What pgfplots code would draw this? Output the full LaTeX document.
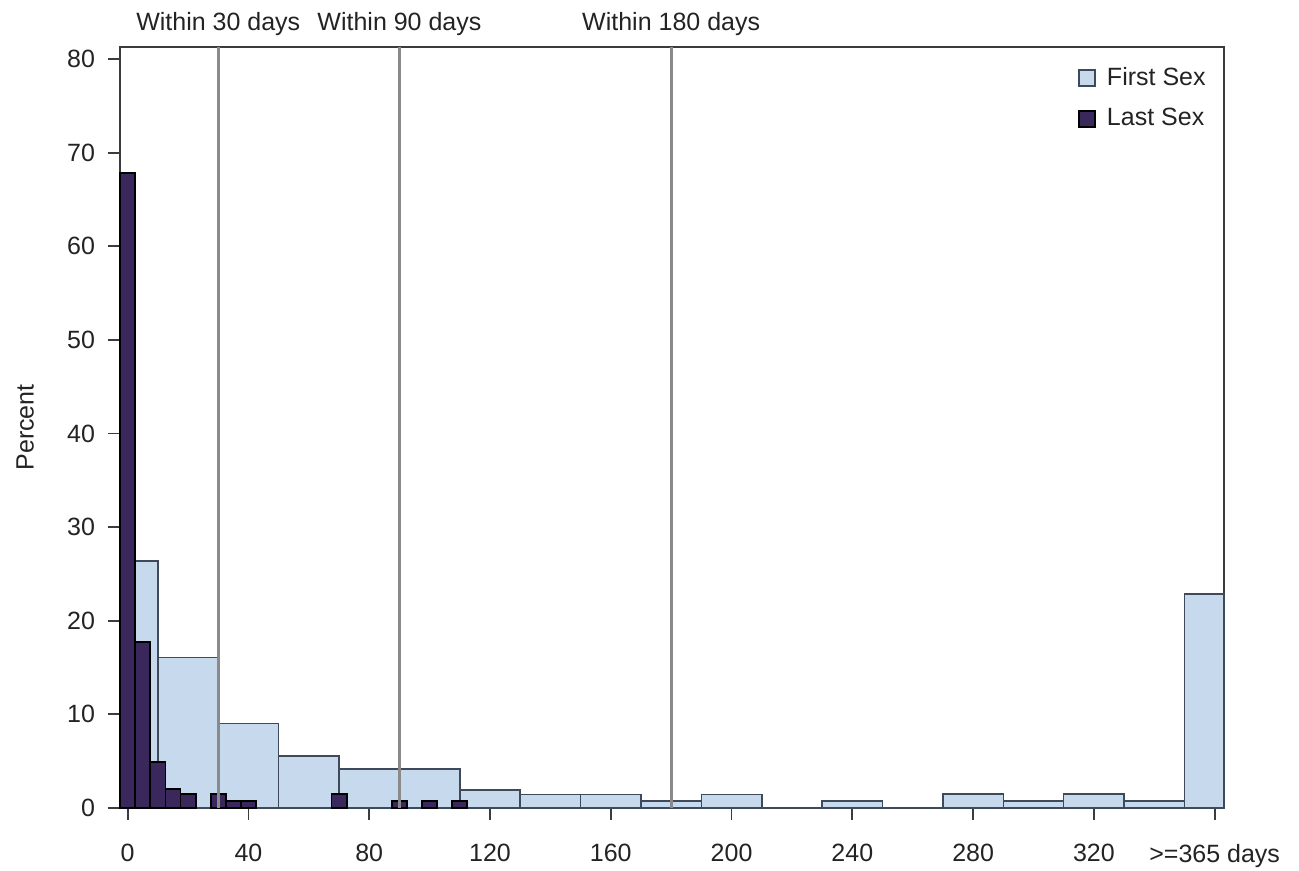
\documentclass[border=0pt]{standalone}
\usepackage{fontspec}
\setmainfont{Liberation Sans}
\usepackage{pgfplots}
\pgfplotsset{compat=1.18}
\definecolor{firstfill}{RGB}{198,217,237}
\definecolor{firstedge}{RGB}{62,74,90}
\definecolor{lastfill}{RGB}{58,40,92}
\definecolor{refline}{RGB}{138,138,138}
\definecolor{axisgray}{RGB}{60,60,60}
\definecolor{txt}{RGB}{35,35,35}
\begin{document}
\begin{tikzpicture}
\useasboundingbox (-60pt,-31.5pt) rectangle (589.5pt,404pt);
\begin{axis}[
  at={(0,0)}, anchor=south west,
  width=552pt, height=380.5pt, scale only axis,
  xmin=-2.55, xmax=363.1, ymin=0, ymax=81.3,
  xtick={0,40,80,120,160,200,240,280,320,360},
  xticklabels={0,40,80,120,160,200,240,280,320,{>=365 days}},
  ytick={0,10,20,30,40,50,60,70,80},
  /pgf/number format/assume math mode=true,
  tick align=outside, xtick pos=bottom, ytick pos=left,
  major tick length=6pt,
  axis line style={axisgray, line width=1pt},
  tick style={axisgray, line width=0.9pt},
  ticklabel style={font=\fontsize{12.5}{14}\selectfont, text=txt},
  xticklabel style={yshift=-8.5pt},
  yticklabel style={xshift=-3pt},
  ylabel={Percent},
  ylabel style={at={(axis description cs:-0.086,0.5)}, anchor=center, font=\fontsize{12.5}{14}\selectfont, text=txt},
  clip=false,
  legend style={at={(rel axis cs:1,1)}, anchor=north east, draw=none, fill=none,
    xshift=-4pt, yshift=-6pt, row sep=6pt, font=\fontsize{12.5}{14}\selectfont, text=txt},
  legend cell align=left,
]
\addplot[ybar interval, fill=firstfill, draw=firstedge, line width=0.75pt,
  legend image code/.code={\draw[fill=firstfill, draw=firstedge, line width=1pt] (0pt,-4pt) rectangle (8pt,4pt); \path[draw=none, fill=none] (0pt,0pt) -- (12pt,0pt);}]
  coordinates {(0,26.4)(10,16.1)(30,9.05)(50,5.56)(70,4.15)(90,4.15)(110,1.9)(130,1.45)(150,1.45)(170,0.75)(190,1.45)(210,0)(230,0.75)(250,0)(270,1.5)(290,0.75)(310,1.5)(330,0.75)(350,22.85)(363.1,22.85)};
\addlegendentry{First Sex}
\addplot[ybar, bar width=5, bar shift=0pt, fill=lastfill, draw=black, line width=0.9pt,
  legend image code/.code={\draw[fill=lastfill, draw=black, line width=1pt] (0pt,-4pt) rectangle (8pt,4pt); \path[draw=none, fill=none] (0pt,0pt) -- (12pt,0pt);}]
  coordinates {(0,67.8)(5,17.7)(10,4.9)(15,2.0)(20,1.46)(30,1.46)(35,0.75)(40,0.75)(70,1.46)(90,0.75)(100,0.75)(110,0.75)};
\addlegendentry{Last Sex}
\addplot[forget plot, refline, line width=1.5pt] coordinates {(30,0)(30,81.3)};
\addplot[forget plot, refline, line width=1.5pt] coordinates {(90,0)(90,81.3)};
\addplot[forget plot, refline, line width=1.5pt] coordinates {(180,0)(180,81.3)};
\node[anchor=base, yshift=8pt, font=\fontsize{12.5}{14}\selectfont, text=txt] at (axis cs:30,81.3) {Within 30 days};
\node[anchor=base, yshift=8pt, font=\fontsize{12.5}{14}\selectfont, text=txt] at (axis cs:90,81.3) {Within 90 days};
\node[anchor=base, yshift=8pt, font=\fontsize{12.5}{14}\selectfont, text=txt] at (axis cs:180,81.3) {Within 180 days};
\end{axis}
\end{tikzpicture}
\end{document}
